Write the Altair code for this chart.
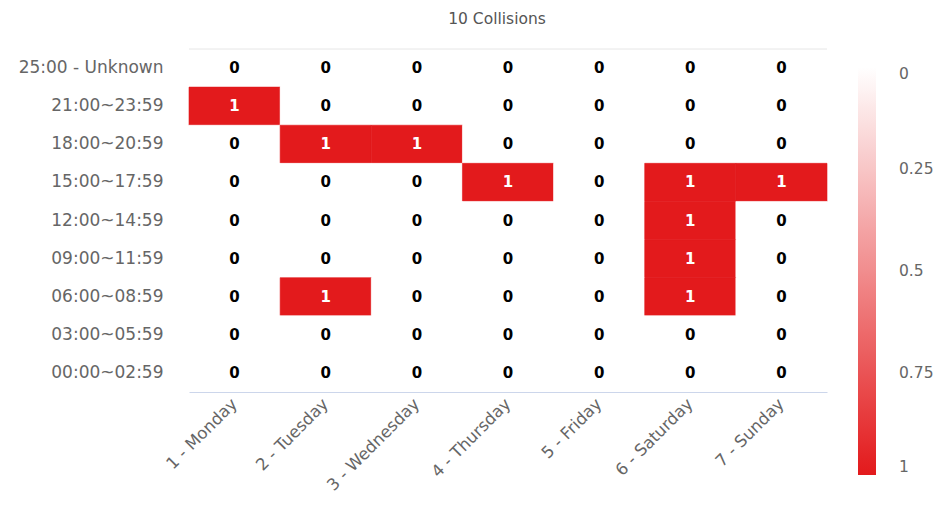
import altair as alt
import pandas as pd

days = ["1 - Monday", "2 - Tuesday", "3 - Wednesday", "4 - Thursday",
        "5 - Friday", "6 - Saturday", "7 - Sunday"]
slots = ["25:00 - Unknown", "21:00~23:59", "18:00~20:59", "15:00~17:59",
         "12:00~14:59", "09:00~11:59", "06:00~08:59", "03:00~05:59", "00:00~02:59"]

# counts per slot, Monday..Sunday
unknown = [0, 0, 0, 0, 0, 0, 0]
h21 = [1, 0, 0, 0, 0, 0, 0]
h18 = [0, 1, 1, 0, 0, 0, 0]
h15 = [0, 0, 0, 1, 0, 1, 1]
h12 = [0, 0, 0, 0, 0, 1, 0]
h09 = [0, 0, 0, 0, 0, 1, 0]
h06 = [0, 1, 0, 0, 0, 1, 0]
h03 = [0, 0, 0, 0, 0, 0, 0]
h00 = [0, 0, 0, 0, 0, 0, 0]
rows_vals = [unknown, h21, h18, h15, h12, h09, h06, h03, h00]

legend_values = [0, 0.25, 0.5, 0.75, 1]
title_text = "10 Collisions"

records = []
for s, vals in zip(slots, rows_vals):
    for d, v in zip(days, vals):
        records.append({"day": d, "slot": s, "count": v})
df = pd.DataFrame(records)

FONT = "DejaVu Sans"
RED = "#e31a1c"

base = alt.Chart(df)

x = alt.X("day:N", sort=days, title=None,
          scale=alt.Scale(paddingInner=0, paddingOuter=0),
          axis=alt.Axis(labelAngle=-45, labelFontSize=16.5, labelColor="#666666",
                        labelFont=FONT, ticks=False, domainColor="#ccd6eb",
                        domainWidth=1, labelPadding=9, grid=False,
                        labelAlign="right", labelBaseline="middle"))
y = alt.Y("slot:N", sort=slots, title=None,
          scale=alt.Scale(paddingInner=0, paddingOuter=0),
          axis=alt.Axis(labelFontSize=17, labelColor="#666666", labelFont=FONT,
                        ticks=False, domain=False, labelPadding=26, grid=False))

color_scale = alt.Scale(domain=[1, 0], range=[RED, "#ffffff"], interpolate="rgb")

rects = base.mark_rect(strokeWidth=0.6).encode(
    x=x, y=y,
    color=alt.Color("count:Q", scale=color_scale,
                    legend=alt.Legend(title=None, orient="none", legendX=669, legendY=18,
                                      direction="vertical", gradientLength=408,
                                      gradientThickness=18, values=legend_values,
                                      labelExpr="'' + datum.value",
                                      labelBaseline="middle",
                                      labelFontSize=15.5, labelColor="#666666",
                                      labelFont=FONT, labelOffset=23,
                                      gradientStrokeWidth=0)),
    stroke=alt.condition("datum.count > 0.5", alt.value(RED), alt.value("#ffffff")),
)

texts = base.mark_text(fontSize=15, fontWeight="bold", font=FONT).encode(
    x=x, y=y,
    text=alt.Text("count:Q"),
    color=alt.condition("datum.count > 0.5", alt.value("white"), alt.value("black")),
)

topline = alt.Chart(pd.DataFrame({"a": [0]})).mark_rule(color="#e6e6e6", strokeWidth=1).encode(
    x=alt.value(0), x2=alt.value(638), y=alt.value(0)
)

chart = alt.layer(rects, topline, texts).properties(
    width=638, height=343,
    title=alt.TitleParams(title_text, fontSize=15.5, color="#555555", font=FONT,
                          fontWeight="normal", anchor="middle", offset=21, dx=-11),
    autosize=alt.AutoSizeParams(type="none"),
    padding={"left": 181, "top": 41, "right": 110, "bottom": 105},
).configure_view(stroke=None)

chart.save("out.html", embed_options={"renderer": "svg", "actions": False})
